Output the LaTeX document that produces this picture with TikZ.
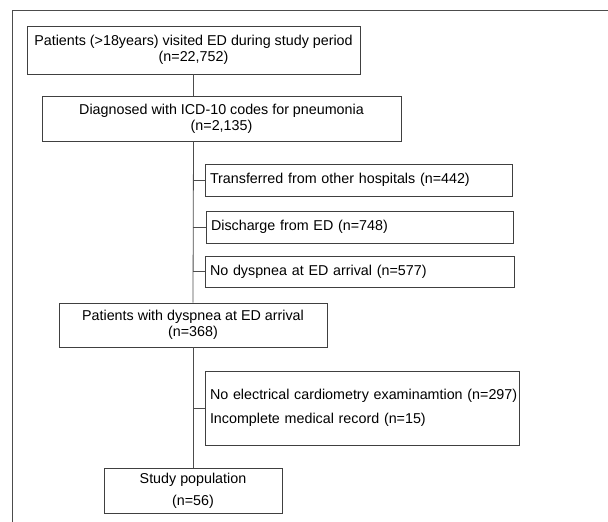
\documentclass[tikz,border=0pt]{standalone}
\usepackage{fontspec}
\setmainfont{Liberation Sans}
\begin{document}
\begin{tikzpicture}[x=1pt,y=-1pt,
    caja/.style={draw=black!75, line width=0.8pt, inner sep=0pt, align=center,
        font=\fontsize{14.3}{16}\selectfont},
    excl/.style={draw=black!75, line width=0.8pt, inner xsep=5pt, inner ysep=0pt,
        align=left, font=\fontsize{14.3}{23.5}\selectfont},
    linea/.style={draw=black!70, line width=0.8pt}]
    \useasboundingbox (0,0) rectangle (608,522);
    \draw[linea] (12,522) -- (12,10) -- (608,10);
    % main flow
    \node[caja, minimum width=333, minimum height=48] (todos) at (193.5,50)
        {Patients (>18years) visited ED during study period\\(n=22,752)};
    \node[caja, minimum width=359, minimum height=45] (neumonia) at (221.5,118.5)
        {Diagnosed with ICD-10 codes for pneumonia\\(n=2,135)};
    \node[caja, minimum width=268, minimum height=44] (disnea) at (193,325)
        {Patients with dyspnea at ED arrival\\(n=368)};
    \node[caja, minimum width=178, minimum height=45, font=\fontsize{14.3}{22}\selectfont] (estudio) at (193,490.5)
        {Study population\\(n=56)};
    % exclusions
    \node[excl, text width=297, minimum height=32] (traslado) at (358.5,180)
        {Transferred from other hospitals (n=442)};
    \node[excl, text width=297, minimum height=32] (alta) at (359.5,227)
        {Discharge from ED (n=748)};
    \node[excl, text width=299, minimum height=31] (nodisnea) at (359.5,271.5)
        {No dyspnea at ED arrival (n=577)};
    \node[excl, text width=304, minimum height=74] (sinec) at (362,408)
        {\makebox[0pt][l]{No electrical cardiometry examinamtion (n=297)}\\Incomplete medical record (n=15)};
    % connectors
    \draw[linea] (todos.south) -- (todos.south |- neumonia.north);
    \draw[linea] (todos.south |- neumonia.south) -- (disnea.north);
    \draw[linea] (disnea.south) -- (estudio.north);
    \draw[linea] (disnea.north |- traslado.west) -- (traslado.west);
    \draw[linea] (disnea.north |- alta.west) -- (alta.west);
    \draw[linea] (disnea.north |- nodisnea.west) -- (nodisnea.west);
    \draw[linea] (disnea.south |- sinec.west) -- (sinec.west);
\end{tikzpicture}
\end{document}
